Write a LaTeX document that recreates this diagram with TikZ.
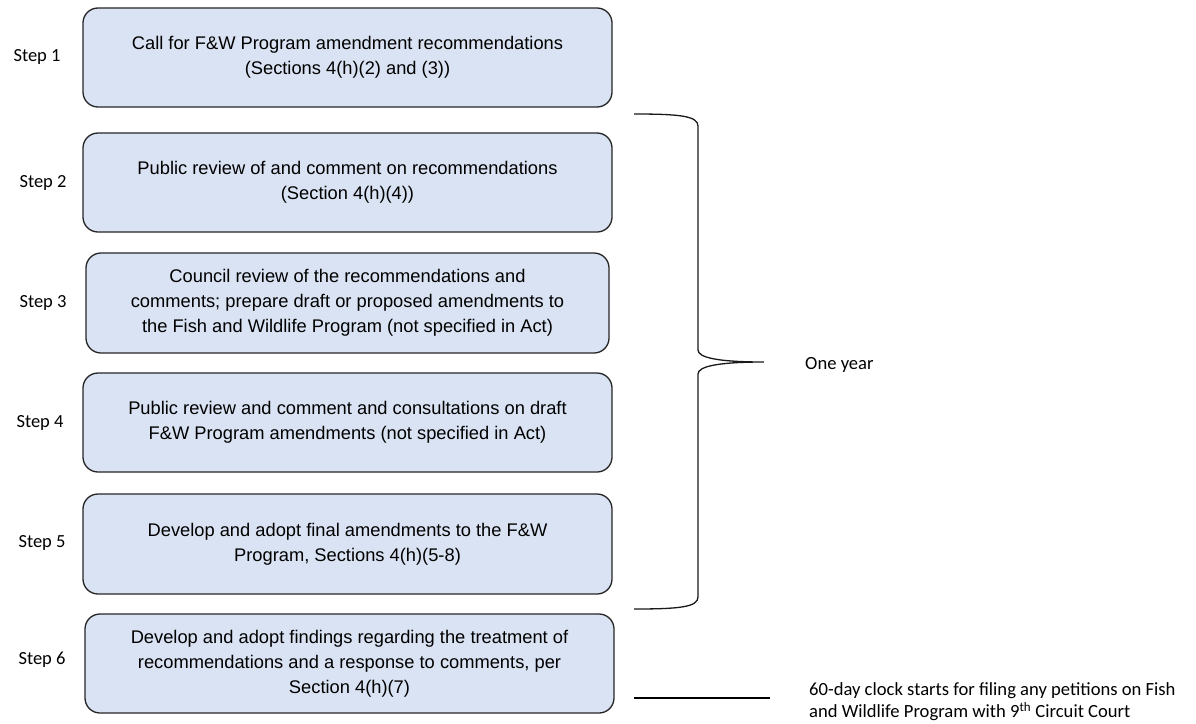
\documentclass[tikz,border=0pt]{standalone}
\usepackage{fontspec}
\setmainfont{Liberation Sans}
\newfontfamily\calibri{Carlito}
\begin{document}
\begin{tikzpicture}[x=1pt,y=-1pt,
  stepbox/.style={draw=black!85, line width=1.3pt, fill=boxblue, rounded corners=15pt, minimum width=529pt, minimum height=99pt, align=center, font=\fontsize{18.3}{25}\selectfont, inner sep=0pt},
  steplabel/.style={font=\calibri\fontsize{18.5}{22}\selectfont, inner sep=0pt},
  note/.style={font=\calibri\fontsize{18.6}{22.5}\selectfont, inner sep=0pt, align=left},
  bracepath/.style={draw=black!90, line width=1.3pt}]
\definecolor{boxblue}{HTML}{DAE3F3}
\useasboundingbox (0,0) rectangle (1196,723);
\fill[white] (0,0) rectangle (1196,723);

\node[stepbox] (b1) at (347.5,57.5) {Call for F\&W Program amendment recommendations\\(Sections 4(h)(2) and (3))};
\node[stepbox] (b2) at (347.5,182.5) {Public review of and comment on recommendations\\(Section 4(h)(4))};
\node[stepbox, minimum width=523pt, minimum height=100pt] (b3) at (347.5,303) {Council review of the recommendations and\\comments; prepare draft or proposed amendments to\\the Fish and Wildlife Program (not specified in Act)};
\node[stepbox] (b4) at (347.5,422.5) {Public review and comment and consultations on draft\\F\&W Program amendments (not specified in Act)};
\node[stepbox, minimum height=100pt] (b5) at (347.5,544) {Develop and adopt final amendments to the F\&W\\Program, Sections 4(h)(5-8)};
\node[stepbox] (b6) at (349.5,663.5) {Develop and adopt findings regarding the treatment of\\recommendations and a response to comments, per\\Section 4(h)(7)};

\node[steplabel] (s1) at (37,57) {Step 1};
\node[steplabel] (s2) at (43,183) {Step 2};
\node[steplabel] (s3) at (43,303) {Step 3};
\node[steplabel] (s4) at (40,423) {Step 4};
\node[steplabel] (s5) at (42,543) {Step 5};
\node[steplabel] (s6) at (42,660) {Step 6};

% brace
\coordinate (bt) at (634,114);
\coordinate (bm) at (764,362);
\coordinate (bb) at (634,609);
\draw[bracepath] (bt) .. controls (680,114) and (698,116) .. (698,126)
  -- (698,350) .. controls (698,358) and (720,362) .. (bm)
  .. controls (720,362) and (698,366) .. (698,374)
  -- (698,597) .. controls (698,607) and (680,609) .. (bb);
\node[note, anchor=west] (oy) at (805,365) {One year};

% bottom line
\coordinate (la) at (634,698);
\coordinate (lb) at (770,698);
\draw[line width=1.2pt] (la) -- (lb);
\node[note, anchor=north west] (clock) at (809,682) {60-day clock starts for filing any petitions on Fish\\and Wildlife Program with 9\textsuperscript{th} Circuit Court};
\end{tikzpicture}
\end{document}
